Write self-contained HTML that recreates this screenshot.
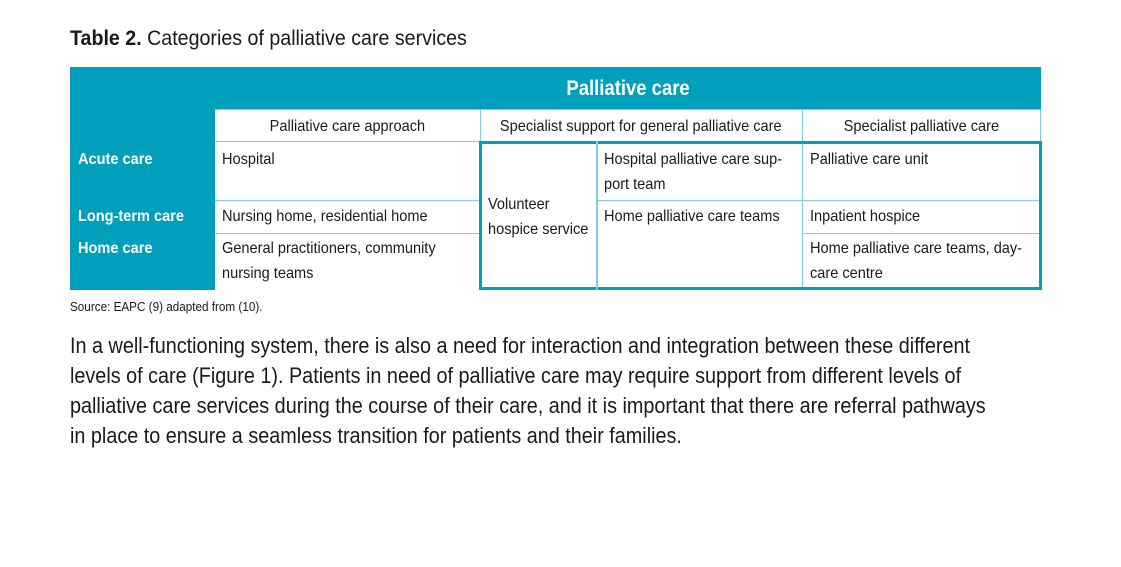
<!DOCTYPE html>
<html><head><meta charset="utf-8"><style>
body{margin:0;width:1121px;height:567px;background:#fff;position:relative;overflow:hidden;font-family:"Liberation Sans Narrow","Liberation Sans",sans-serif;color:#1a1a1a}
.a{position:absolute}
.t{position:absolute;white-space:nowrap;transform-origin:0 0;transform:scaleX(.91);font-size:16px;line-height:25px}
.c{position:absolute;text-align:center;white-space:nowrap;font-size:16px;line-height:25px}
.c span{display:inline-block;transform:scaleX(.91)}
.w{color:#fff;font-weight:bold}
.teal{background:#00a0bd}
.ln{position:absolute;background:#7fcfdf}
.tk{position:absolute;background:#00a0bd}
</style></head><body>
<div class="t" style="left:70px;top:25px;font-size:21px;line-height:28px;transform:scaleX(.935)"><b>Table 2.</b> Categories of palliative care services</div>

<div class="a teal" style="left:70px;top:67px;width:971px;height:42px"></div>
<div class="a teal" style="left:70px;top:67px;width:145px;height:223px"></div>
<div class="c w" style="left:215px;top:76px;width:826px;font-size:21px"><span style="transform:scaleX(.88)">Palliative care</span></div>

<div class="ln" style="left:215px;top:109px;width:826px;height:1px"></div>
<div class="ln" style="left:1040px;top:109px;width:1px;height:32px"></div>
<div class="ln" style="left:480px;top:109px;width:1px;height:32px"></div>
<div class="ln" style="left:802px;top:109px;width:1px;height:181px"></div>
<div class="ln" style="left:215px;top:141px;width:265px;height:1px"></div>
<div class="ln" style="left:215px;top:200px;width:265px;height:1px"></div>
<div class="ln" style="left:215px;top:233px;width:265px;height:1px"></div>
<div class="ln" style="left:596px;top:200px;width:445px;height:1px"></div>
<div class="ln" style="left:802px;top:233px;width:239px;height:1px"></div>
<div class="tk" style="left:479px;top:141px;width:562px;height:3px"></div>
<div class="tk" style="left:479px;top:287px;width:562px;height:3px"></div>
<div class="tk" style="left:479px;top:141px;width:3px;height:149px"></div>
<div class="tk" style="left:1039px;top:141px;width:3px;height:149px"></div>
<div class="ln" style="left:596px;top:141px;width:2px;height:149px"></div>

<div class="c" style="left:215px;top:114px;width:265px"><span>Palliative care approach</span></div>
<div class="c" style="left:480px;top:114px;width:322px"><span>Specialist support for general palliative care</span></div>
<div class="c" style="left:802px;top:114px;width:239px"><span>Specialist palliative care</span></div>

<div class="t w" style="left:78px;top:147px">Acute care</div>
<div class="t w" style="left:78px;top:204px">Long-term care</div>
<div class="t w" style="left:78px;top:236px">Home care</div>

<div class="t" style="left:222px;top:147px">Hospital</div>
<div class="t" style="left:222px;top:204px">Nursing home, residential home</div>
<div class="t" style="left:222px;top:236px">General practitioners, community<br>nursing teams</div>
<div class="t" style="left:488px;top:192px">Volunteer<br>hospice service</div>
<div class="t" style="left:604px;top:147px">Hospital palliative care sup-<br>port team</div>
<div class="t" style="left:604px;top:204px">Home palliative care teams</div>
<div class="t" style="left:810px;top:147px">Palliative care unit</div>
<div class="t" style="left:810px;top:204px">Inpatient hospice</div>
<div class="t" style="left:810px;top:236px">Home palliative care teams, day-<br>care centre</div>

<div class="t" style="left:70px;top:299px;font-size:13px;line-height:16px;transform:scaleX(.9)">Source: EAPC (9) adapted from (10).</div>

<div class="t" style="left:70px;top:331px;font-size:22px;line-height:30px;transform:scaleX(.9)">In a well-functioning system, there is also a need for interaction and integration between these different<br>levels of care (Figure 1). Patients in need of palliative care may require support from different levels of<br>palliative care services during the course of their care, and it is important that there are referral pathways<br>in place to ensure a seamless transition for patients and their families.</div>
</body></html>
